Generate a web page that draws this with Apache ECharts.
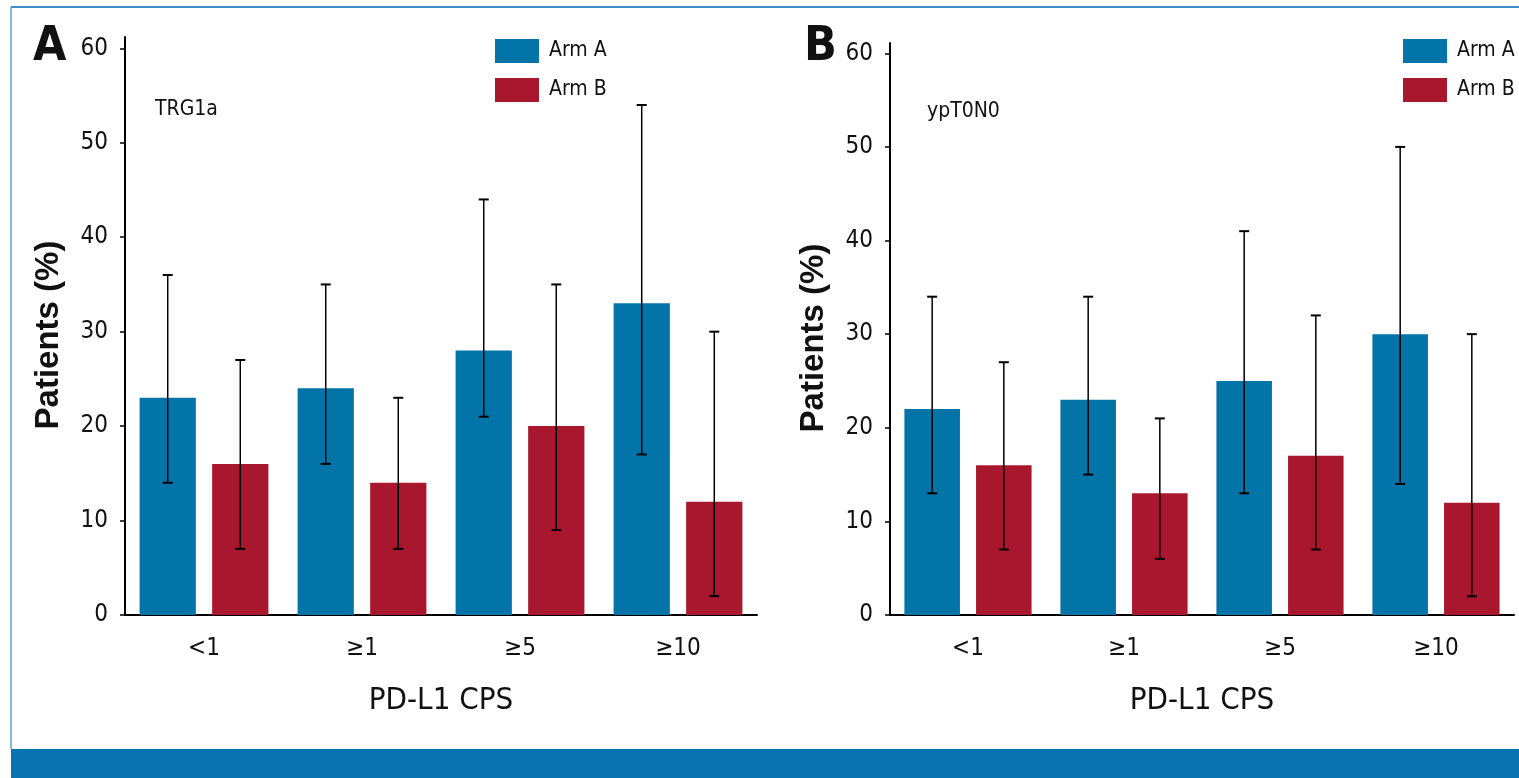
<!DOCTYPE html>
<html>
<head>
<meta charset="utf-8">
<script src="https://cdn.jsdelivr.net/npm/echarts@6/dist/echarts.min.js"></script>
<style>
html,body{margin:0;padding:0;background:#fff;}
#chart{width:1519px;height:778px;}
</style>
</head>
<body>
<div id="chart"></div>
<script>
// ---- data ----
const categories = ['<1', '≥1', '≥5', '≥10'];
const yTicks = [0, 10, 20, 30, 40, 50, 60];
const seriesNames = ['Arm A', 'Arm B'];

// Panel A: TRG1a
const trgArmA = [23, 24, 28, 33];
const trgArmALow = [14, 16, 21, 17];
const trgArmAHigh = [36, 35, 44, 54];
const trgArmB = [16, 14, 20, 12];
const trgArmBLow = [7, 7, 9, 2];
const trgArmBHigh = [27, 23, 35, 30];

// Panel B: ypT0N0
const ypArmA = [22, 23, 25, 30];
const ypArmALow = [13, 15, 13, 14];
const ypArmAHigh = [34, 34, 41, 50];
const ypArmB = [16, 13, 17, 12];
const ypArmBLow = [7, 6, 7, 2];
const ypArmBHigh = [27, 21, 32, 30];

// ---- styling ----
const NARROW = "'Liberation Sans Narrow', 'DejaVu Sans Condensed', sans-serif";
const BLUE = '#0274a8';
const RED = '#a9172f';
const BAR_W = 0.356;
const BAR_GAP = 0.29;

function errData(low, high) {
  return low.map(function (l, i) { return [i, l, high[i]]; });
}

function errRenderer(sign) {
  return function (params, api) {
    var xi = api.value(0);
    var band = api.size([1, 0])[0];
    var off = sign * band * BAR_W * (1 + BAR_GAP) / 2;
    var lo = api.coord([xi, api.value(1)]);
    var hi = api.coord([xi, api.value(2)]);
    var x = lo[0] + off;
    var cap = 5;
    return {
      type: 'group',
      children: [
        { type: 'line', shape: { x1: x, y1: hi[1], x2: x, y2: lo[1] }, style: { stroke: '#000', lineWidth: 1.5 } },
        { type: 'line', shape: { x1: x - cap, y1: hi[1], x2: x + cap, y2: hi[1] }, style: { stroke: '#000', lineWidth: 2 } },
        { type: 'line', shape: { x1: x - cap, y1: lo[1], x2: x + cap, y2: lo[1] }, style: { stroke: '#000', lineWidth: 2 } }
      ]
    };
  };
}

function xAxisCfg(gridIndex) {
  return {
    type: 'category', gridIndex: gridIndex, data: categories,
    axisLine: { lineStyle: { color: '#000', width: 2 } },
    axisTick: { show: false },
    axisLabel: { color: '#111', fontSize: 24, fontFamily: NARROW, margin: 22 },
    name: 'PD-L1 CPS', nameLocation: 'middle', nameGap: 70,
    nameTextStyle: { color: '#111', fontSize: 31, fontFamily: NARROW }
  };
}
function yAxisCfg(gridIndex, max) {
  return {
    type: 'value', gridIndex: gridIndex, min: 0, max: max,
    splitLine: { show: false },
    axisLine: { show: true, lineStyle: { color: '#000', width: 2 } },
    axisTick: { show: true, length: 5, lineStyle: { color: '#000', width: 1.5 }, customValues: yTicks },
    axisLabel: { color: '#111', fontSize: 24, fontFamily: NARROW, margin: 17, customValues: yTicks },
    name: 'Patients (%)', nameLocation: 'middle', nameGap: 60, nameRotate: 90,
    nameTextStyle: { color: '#111', fontSize: 33, fontWeight: 'bold', fontFamily: "'Liberation Sans', Arial, sans-serif", padding: [0, 18, 0, 0] }
  };
}
function legendCfg(left) {
  return {
    data: seriesNames, orient: 'vertical', left: left, top: 34, icon: 'rect',
    itemWidth: 44, itemHeight: 24, itemGap: 15,
    textStyle: { color: '#111', fontSize: 21, fontFamily: NARROW, padding: [0, 0, 0, 5] }
  };
}
function barSeries(name, data, gi, color) {
  return {
    type: 'bar', name: name, data: data, xAxisIndex: gi, yAxisIndex: gi,
    barWidth: (BAR_W * 100) + '%', barGap: (BAR_GAP * 100) + '%',
    itemStyle: { color: color }, z: 2
  };
}
function errSeries(name, low, high, gi, sign) {
  return {
    type: 'custom', name: name, data: errData(low, high), xAxisIndex: gi, yAxisIndex: gi,
    renderItem: errRenderer(sign), encode: { x: 0, y: [1, 2] }, z: 5, silent: true
  };
}

const chart = echarts.init(document.getElementById('chart'), null, { renderer: 'canvas' });
chart.setOption({
  animation: false,
  backgroundColor: '#fff',
  title: [
    { text: 'A', left: 28, top: 19, textStyle: { fontSize: 48, fontWeight: 'bold', fontFamily: NARROW, color: '#111' } },
    { text: 'B', left: 799, top: 19, textStyle: { fontSize: 48, fontWeight: 'bold', fontFamily: NARROW, color: '#111' } },
    { text: 'TRG1a', left: 150, top: 94, textStyle: { fontSize: 21, fontWeight: 'normal', fontFamily: NARROW, color: '#111' } },
    { text: 'ypT0N0', left: 922, top: 96, textStyle: { fontSize: 21, fontWeight: 'normal', fontFamily: NARROW, color: '#111' } }
  ],
  legend: [legendCfg(490), legendCfg(1398)],
  grid: [
    { left: 125, top: 37, width: 632, height: 578 },
    { left: 890, top: 43, width: 624, height: 572 }
  ],
  xAxis: [xAxisCfg(0), xAxisCfg(1)],
  yAxis: [yAxisCfg(0, 61.2), yAxisCfg(1, 61.1)],
  series: [
    barSeries('Arm A', trgArmA, 0, BLUE),
    barSeries('Arm B', trgArmB, 0, RED),
    errSeries('errA0', trgArmALow, trgArmAHigh, 0, -1),
    errSeries('errB0', trgArmBLow, trgArmBHigh, 0, 1),
    barSeries('Arm A', ypArmA, 1, BLUE),
    barSeries('Arm B', ypArmB, 1, RED),
    errSeries('errA1', ypArmALow, ypArmAHigh, 1, -1),
    errSeries('errB1', ypArmBLow, ypArmBHigh, 1, 1)
  ],
  graphic: [
    { type: 'rect', shape: { x: 11, y: 749, width: 1508, height: 29 }, style: { fill: '#0774b0' }, silent: true },
    { type: 'line', shape: { x1: 11, y1: 7, x2: 1519, y2: 7 }, style: { stroke: '#3d8fc4', lineWidth: 2 }, silent: true },
    { type: 'line', shape: { x1: 11, y1: 7, x2: 11, y2: 749 }, style: { stroke: '#5aa0cf', lineWidth: 1.5 }, silent: true }
  ]
});
</script>
</body>
</html>
